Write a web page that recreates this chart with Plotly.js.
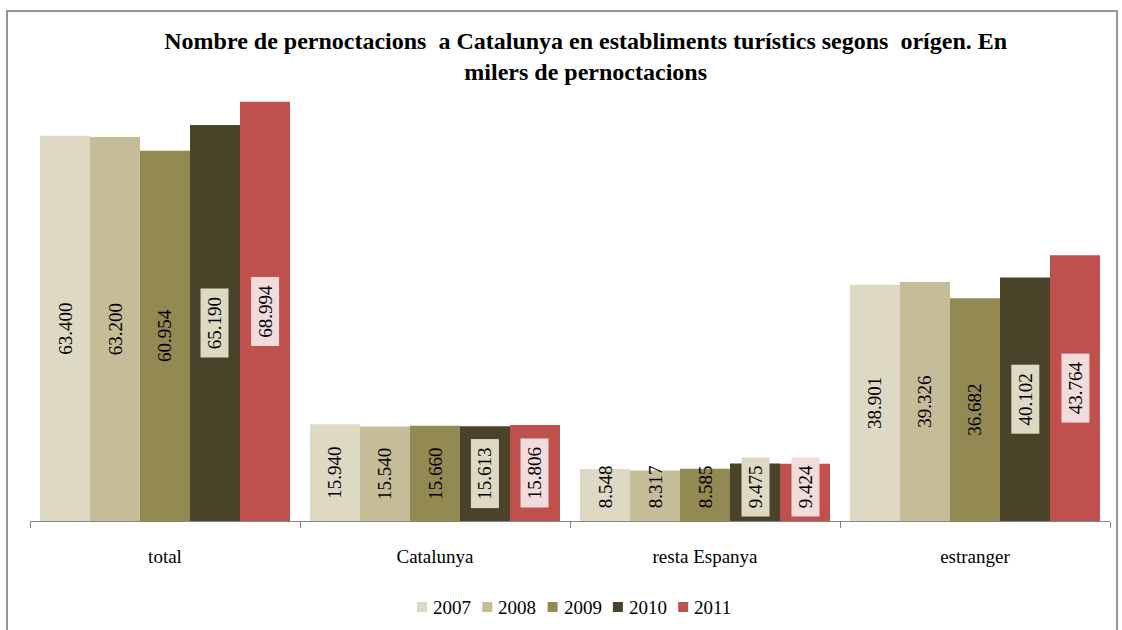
<!DOCTYPE html>
<html>
<head>
<meta charset="utf-8">
<script src="https://cdn.plot.ly/plotly-3.0.1.min.js"></script>
<style>
  html, body { margin: 0; padding: 0; background: #fff; }
  #frame { position: absolute; left: 6px; top: 10px; width: 1112px; height: 640px; border: 2px solid #959595; box-sizing: border-box; }
  #chart { position: absolute; left: 0; top: 0; width: 1122px; height: 630px; }
</style>
</head>
<body>
<div id="frame"></div>
<div id="chart"></div>
<script>
  /* pernoctacions, milers */
  var CATEGORIES = ['total', 'Catalunya', 'resta Espanya', 'estranger'];
  var YEARS = ['2007', '2008', '2009', '2010', '2011'];
  var V2007 = [63400, 15940, 8548, 38901];
  var V2008 = [63200, 15540, 8317, 39326];
  var V2009 = [60954, 15660, 8585, 36682];
  var V2010 = [65190, 15613, 9475, 40102];
  var V2011 = [68994, 15806, 9424, 43764];
  var SERIES = [V2007, V2008, V2009, V2010, V2011];

  var COLORS = ['#ddd9c3', '#c4bd97', '#938953', '#494429', '#c0504d'];
  var LABEL_BG = [null, null, null, '#ddd9c3', '#f2dcdb'];
  var FONT = 'Liberation Serif, Times New Roman, serif';

  var M = { l: 30, r: 12, t: 35, b: 109 };
  var PLOT_W = 1122 - M.l - M.r, PLOT_H = 630 - M.t - M.b;

  function fmt(v) {
    return String(v).replace(/\B(?=(\d{3})+(?!\d))/g, '.');
  }
  /* píxels de la finestra -> coordenades paper */
  function px2x(px) { return (px - M.l) / PLOT_W; }
  function px2y(py) { return (630 - M.b - py) / PLOT_H; }

  var traces = SERIES.map(function (vals, i) {
    return {
      type: 'bar', name: YEARS[i], x: CATEGORIES, y: vals,
      marker: { color: COLORS[i], line: { width: 0 } },
      hoverinfo: 'skip'
    };
  });

  /* etiquetes verticals dins les barres */
  var BAR_PX = 50;
  var annotations = [], shapes = [];
  SERIES.forEach(function (vals, i) {
    vals.forEach(function (v, j) {
      var small = v < 11500;
      var a = {
        x: CATEGORIES[j], y: small ? 0 : v / 2,
        xref: 'x', yref: 'y',
        xshift: (i - 2) * BAR_PX,
        yanchor: small ? 'bottom' : 'middle',
        yshift: small ? 4 : 0,
        text: '\u00a0' + fmt(v) + '\u00a0',
        textangle: -90, showarrow: false,
        font: { family: FONT, size: 19, color: '#000' },
        borderpad: 3
      };
      if (LABEL_BG[i]) a.bgcolor = LABEL_BG[i];
      annotations.push(a);
    });
  });

  /* llegenda a mà (quadrat + any), centrada sota el gràfic */
  var LEG_X0 = 417, LEG_STEP = 65.3, LEG_Y = 607, SW = 10;
  YEARS.forEach(function (yr, i) {
    var sx = LEG_X0 + i * LEG_STEP;
    shapes.push({
      type: 'rect', xref: 'paper', yref: 'paper',
      x0: px2x(sx), x1: px2x(sx + SW), y0: px2y(LEG_Y + SW / 2), y1: px2y(LEG_Y - SW / 2),
      fillcolor: COLORS[i], line: { width: 0 }
    });
    annotations.push({
      xref: 'paper', yref: 'paper', x: px2x(sx + SW + 4), y: px2y(LEG_Y),
      xanchor: 'left', yanchor: 'middle', showarrow: false,
      text: yr, font: { family: FONT, size: 19, color: '#000' }
    });
  });

  var layout = {
    width: 1122, height: 630,
    margin: M,
    paper_bgcolor: 'rgba(0,0,0,0)',
    plot_bgcolor: 'rgba(0,0,0,0)',
    font: { family: FONT, size: 19, color: '#000' },
    title: {
      text: '<b>Nombre de pernoctacions  a Catalunya en establiments turístics segons  orígen. En<br>milers de pernoctacions</b>',
      font: { family: FONT, size: 24, color: '#000' },
      xref: 'container', x: 0.522, xanchor: 'center',
      yref: 'container', y: 0.922, yanchor: 'top'
    },
    barmode: 'group', bargap: 0.074, bargroupgap: 0,
    xaxis: {
      type: 'category', showline: true, linecolor: '#868686', linewidth: 1,
      ticks: 'outside', tickson: 'boundaries', ticklen: 6, tickcolor: '#868686',
      ticklabelstandoff: 18, showgrid: false, fixedrange: true,
      tickfont: { family: FONT, size: 19, color: '#000' }
    },
    yaxis: { range: [0, 80000], visible: false, showgrid: false, zeroline: false, fixedrange: true },
    showlegend: false,
    annotations: annotations,
    shapes: shapes
  };

  Plotly.newPlot('chart', traces, layout, { displayModeBar: false, staticPlot: true });
</script>
</body>
</html>
